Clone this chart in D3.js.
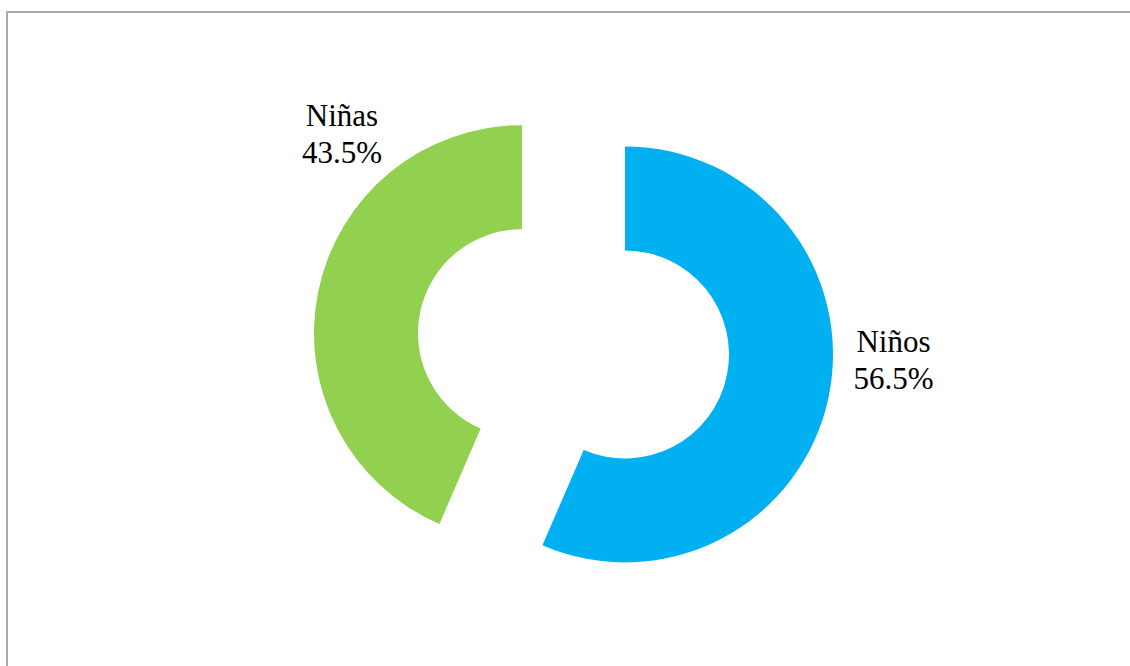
<!DOCTYPE html>
<html>
<head>
<meta charset="utf-8">
<script src="https://cdn.jsdelivr.net/npm/d3@7"></script>
<style>
  html, body { margin: 0; padding: 0; background: #fff; }
  svg { display: block; }
</style>
</head>
<body>
<svg id="chart" width="1130" height="666"></svg>
<script>

var categories = ["Niños", "Niñas"]
var values = [56.5, 43.5]
var colors = ["#00B0F0", "#92D050"]

var width = 1130, height = 666
var svg = d3.select("#chart")

// chart area border (runs off the right and bottom of the picture)
svg.append("rect")
    .attr("x", 7)
    .attr("y", 12)
    .attr("width", 1200)
    .attr("height", 800)
    .style("fill", "none")
    .style("stroke", "#aaaaaa")
    .style("stroke-width", 2)

var cx = 573.5, cy = 343.8
var outer = 208, inner = 104, explode = 52.6

var pie = d3.pie().sort(null).value(function(d){ return d })
var arc = d3.arc().innerRadius(inner).outerRadius(outer)

var slices = pie(values)

var g = svg.append("g").attr("transform", "translate(" + cx + "," + cy + ")")

slices.forEach(function(s, i){
  var mid = (s.startAngle + s.endAngle) / 2
  var dx = Math.sin(mid) * explode, dy = -Math.cos(mid) * explode
  g.append("path")
      .attr("d", arc(s))
      .attr("transform", "translate(" + dx + "," + dy + ")")
      .style("fill", colors[i])
})

// label placement (best-fit): angle in degrees and distance from slice centre
var labelPlace = [ {angle: 93.4, dist: 269}, {angle: 316.4, dist: 261} ]

slices.forEach(function(s, i){
  var mid = (s.startAngle + s.endAngle) / 2
  var ox = Math.sin(mid) * explode, oy = -Math.cos(mid) * explode
  var a = labelPlace[i].angle * Math.PI / 180
  var lx = ox + Math.sin(a) * labelPlace[i].dist
  var ly = oy - Math.cos(a) * labelPlace[i].dist
  var t = g.append("text")
      .attr("x", lx)
      .attr("y", ly)
      .style("font-family", "'Liberation Serif', 'Times New Roman', serif")
      .style("font-size", "31px")
      .style("fill", "#000")
      .attr("text-anchor", "middle")
  t.append("tspan").attr("x", lx).attr("dy", -18).text(categories[i])
  t.append("tspan").attr("x", lx).attr("dy", 37).text(d3.format(".1f")(values[i]) + "%")
})

</script>
</body>
</html>
